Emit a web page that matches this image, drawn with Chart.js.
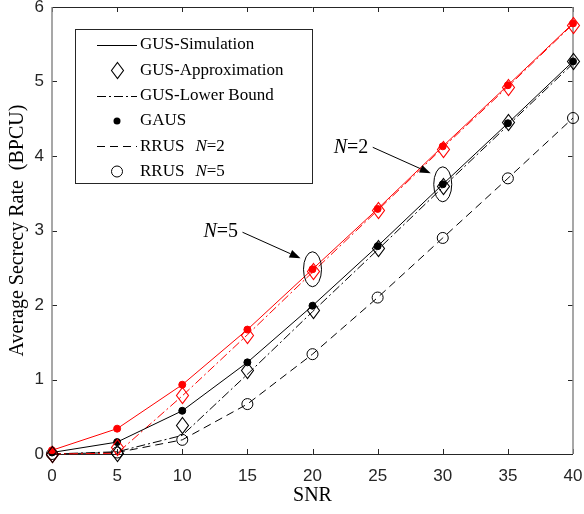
<!DOCTYPE html>
<html>
<head>
<meta charset="utf-8">
<script src="https://cdn.jsdelivr.net/npm/chart.js@4.4.1/dist/chart.umd.min.js"></script>
<style>
  html, body { margin: 0; padding: 0; background: #fff; }
  #chart { display: block; }
</style>
</head>
<body>
<canvas id="chart" width="584" height="514"></canvas>
<script>
const snr = [0, 5, 10, 15, 20, 25, 30, 35, 40];

// N = 2 curves (black)
const gusSimN2    = [0.02, 0.16, 0.58, 1.23, 1.99, 2.79, 3.62, 4.44, 5.27];
const gusApproxN2 = [0.00, 0.01, 0.39, 1.13, 1.93, 2.76, 3.60, 4.45, 5.27];
const gusLowerN2  = [0.00, 0.03, 0.25, 1.07, 1.91, 2.74, 3.58, 4.41, 5.24];
const gausN2      = [0.02, 0.16, 0.58, 1.23, 1.99, 2.79, 3.62, 4.44, 5.27];
const rrusLine    = [0.00, 0.02, 0.19, 0.67, 1.34, 2.10, 2.90, 3.70, 4.51];
const rrusCircles = [0.00, 0.02, 0.19, 0.67, 1.34, 2.10, 2.90, 3.70, 4.51];

// N = 5 curves (red)
const gusSimN5    = [0.05, 0.34, 0.93, 1.67, 2.48, 3.29, 4.13, 4.95, 5.78];
const gusApproxN5 = [0.00, 0.10, 0.79, 1.60, 2.45, 3.27, 4.10, 4.92, 5.76];
const gusLowerN5  = [0.00, 0.01, 0.78, 1.60, 2.44, 3.27, 4.11, 4.93, 5.77];
const gausN5      = [0.05, 0.34, 0.93, 1.67, 2.48, 3.29, 4.13, 4.95, 5.78];

const legendLabels = ['GUS-Simulation', 'GUS-Approximation', 'GUS-Lower Bound', 'GAUS', 'RRUS  N=2', 'RRUS  N=5'];
const xTitle = 'SNR';
const yTitle = 'Average Secrecy Rate  (BPCU)';

const BLACK = '#000000';
const RED = '#ff0000';
const AXIS = '#262626';
const SERIF = '"Liberation Serif", "Times New Roman", serif';
const SANS = '"Liberation Sans", Arial, sans-serif';

const pts = arr => snr.map((x, i) => ({ x: x, y: arr[i] }));

const lineSet = (arr, color, dash) => ({
    data: pts(arr), borderColor: color, borderWidth: 1, borderDash: dash,
    pointRadius: 0, fill: false, showLine: true, clip: false
});
const markSet = (arr, style, color, radius, filled) => ({
    data: pts(arr), showLine: false, pointStyle: style, pointRadius: radius,
    pointBorderColor: color, pointBackgroundColor: filled ? color : 'rgba(0,0,0,0)',
    pointBorderWidth: 1, clip: false
});
// diamonds are stroked by the overlay plugin at the element positions chart.js computes
const diamondSet = (arr, color) => ({
    data: pts(arr), showLine: false, pointRadius: 0, diamond: color, clip: false
});

const DASH = [8, 5];
const DASHDOT = [9, 3, 2, 3];

const datasets = [
    markSet(gausN5, 'circle', RED, 3.5, true),
    markSet(gausN2, 'circle', BLACK, 3.5, true),
    diamondSet(gusApproxN5, RED),
    diamondSet(gusApproxN2, BLACK),
    markSet(rrusCircles, 'circle', BLACK, 5.5, false),
    lineSet(gusSimN5, RED, []),
    lineSet(gusSimN2, BLACK, []),
    lineSet(gusLowerN5, RED, DASHDOT),
    lineSet(gusLowerN2, BLACK, DASHDOT),
    lineSet(rrusLine, BLACK, DASH)
];

const diamondPath = (ctx, x, y) => {
    ctx.beginPath();
    ctx.moveTo(x, y - 8); ctx.lineTo(x + 6, y); ctx.lineTo(x, y + 8); ctx.lineTo(x - 6, y);
    ctx.closePath();
    ctx.stroke();
};

// box, inward ticks on all four sides
const framePlugin = {
    id: 'frame',
    beforeDatasetsDraw(chart) {
        const { ctx, chartArea: a, scales } = chart;
        ctx.save();
        ctx.strokeStyle = AXIS;
        ctx.lineWidth = 1;
        const tl = 5;
        scales.x.ticks.forEach(t => {
            const px = Math.round(scales.x.getPixelForValue(t.value)) + 0.5;
            ctx.beginPath();
            ctx.moveTo(px, a.bottom); ctx.lineTo(px, a.bottom - tl);
            ctx.moveTo(px, a.top); ctx.lineTo(px, a.top + tl);
            ctx.stroke();
        });
        scales.y.ticks.forEach(t => {
            const py = Math.round(scales.y.getPixelForValue(t.value)) + 0.5;
            ctx.beginPath();
            ctx.moveTo(a.left, py); ctx.lineTo(a.left + tl, py);
            ctx.moveTo(a.right, py); ctx.lineTo(a.right - tl, py);
            ctx.stroke();
        });
        ctx.beginPath();
        ctx.moveTo(a.left, a.top + 0.5); ctx.lineTo(a.right, a.top + 0.5);
        ctx.moveTo(a.left, a.bottom + 0.5); ctx.lineTo(a.right, a.bottom + 0.5);
        ctx.stroke();
        ctx.strokeStyle = '#8a8a8a';
        ctx.lineWidth = 1.5;
        ctx.beginPath();
        ctx.moveTo(a.left, a.top); ctx.lineTo(a.left, a.bottom);
        ctx.moveTo(a.right, a.top); ctx.lineTo(a.right, a.bottom);
        ctx.stroke();
        ctx.restore();
    }
};

const drawArrow = (ctx, x0, y0, x1, y1) => {
    const ang = Math.atan2(y1 - y0, x1 - x0);
    const hl = 11, hw = 4;
    ctx.beginPath();
    ctx.moveTo(x0, y0);
    ctx.lineTo(x1 - hl * Math.cos(ang), y1 - hl * Math.sin(ang));
    ctx.stroke();
    ctx.beginPath();
    ctx.moveTo(x1, y1);
    ctx.lineTo(x1 - hl * Math.cos(ang) + hw * Math.sin(ang), y1 - hl * Math.sin(ang) - hw * Math.cos(ang));
    ctx.lineTo(x1 - hl * Math.cos(ang) - hw * Math.sin(ang), y1 - hl * Math.sin(ang) + hw * Math.cos(ang));
    ctx.closePath();
    ctx.fill();
};

const drawNLabel = (ctx, x, y, nVal, size) => {
    ctx.textBaseline = 'middle';
    ctx.textAlign = 'left';
    ctx.font = 'italic ' + size + 'px ' + SERIF;
    ctx.fillText('N', x, y);
    const w = ctx.measureText('N').width;
    ctx.font = size + 'px ' + SERIF;
    ctx.fillText('=' + nVal, x + w, y);
};

// diamonds, legend box and the N=2 / N=5 callouts
const overlayPlugin = {
    id: 'overlay',
    afterDatasetsDraw(chart) {
        const { ctx, chartArea: a, scales } = chart;
        ctx.save();

        ctx.lineWidth = 1.1;
        chart.data.datasets.forEach((ds, i) => {
            if (!ds.diamond) return;
            ctx.strokeStyle = ds.diamond;
            chart.getDatasetMeta(i).data.forEach(el => {
                diamondPath(ctx, Math.round(el.x) + 0.5, Math.round(el.y) + 0.5);
            });
        });

        // callouts
        ctx.strokeStyle = BLACK;
        ctx.fillStyle = BLACK;
        ctx.lineWidth = 1;
        const callouts = [
            { x: snr[6], y: gusSimN2[6], n: 2 },
            { x: snr[4], y: gusSimN5[4], n: 5 }
        ];
        callouts.forEach(c => {
            const cx = scales.x.getPixelForValue(c.x);
            const cy = scales.y.getPixelForValue(c.y);
            ctx.beginPath();
            ctx.ellipse(cx, cy, 9, 17.5, 0, 0, Math.PI * 2);
            ctx.stroke();
            drawArrow(ctx, cx - 70, cy - 37, cx - 12, cy - 11);
            drawNLabel(ctx, cx - 109, cy - 37, c.n, 20);
        });

        // legend
        const bx = a.left + 23, by = a.top + 22, bw = 237, bh = 154;
        ctx.fillStyle = '#ffffff';
        ctx.fillRect(bx, by, bw, bh);
        ctx.strokeStyle = AXIS;
        ctx.lineWidth = 1;
        ctx.strokeRect(bx + 0.5, by + 0.5, bw, bh);

        const sx0 = bx + 22, sx1 = bx + 62, mx = bx + 42, tx = bx + 65;
        legendLabels.forEach((lab, i) => {
            const ry = by + 16 + i * 25.3;
            ctx.strokeStyle = BLACK;
            ctx.fillStyle = BLACK;
            ctx.lineWidth = 1;
            if (i === 0 || i === 2 || i === 4) {
                ctx.setLineDash(i === 0 ? [] : (i === 2 ? DASHDOT : DASH));
                ctx.beginPath();
                ctx.moveTo(sx0, Math.round(ry) + 0.5); ctx.lineTo(sx1, Math.round(ry) + 0.5);
                ctx.stroke();
                ctx.setLineDash([]);
            } else if (i === 1) {
                ctx.lineWidth = 1.1;
                diamondPath(ctx, Math.round(mx) + 0.5, Math.round(ry) + 0.5);
            } else if (i === 3) {
                ctx.beginPath(); ctx.arc(mx, ry, 3.5, 0, Math.PI * 2); ctx.fill();
            } else {
                ctx.beginPath(); ctx.arc(mx, ry, 5.5, 0, Math.PI * 2); ctx.stroke();
            }
            ctx.textBaseline = 'middle';
            ctx.textAlign = 'left';
            ctx.font = '17px ' + SERIF;
            if (lab.indexOf('N=') >= 0) {
                const parts = lab.split(/\s+/);
                ctx.fillText(parts[0], tx, ry);
                const w = ctx.measureText(parts[0]).width;
                drawNLabel(ctx, tx + w + 11, ry, parts[1].split('=')[1], 17);
            } else {
                ctx.fillText(lab, tx, ry);
            }
        });
        ctx.restore();
    }
};

const chart = new Chart(document.getElementById('chart').getContext('2d'), {
    type: 'scatter',
    data: { datasets },
    options: {
        responsive: false,
        animation: false,
        events: [],
        layout: { padding: { top: 7, right: 11, left: 0, bottom: 0 } },
        plugins: { legend: { display: false }, tooltip: { enabled: false } },
        scales: {
            x: {
                type: 'linear', min: 0, max: 40,
                grid: { display: false, drawTicks: false },
                border: { display: false },
                ticks: { stepSize: 5, padding: 12, color: AXIS, font: { family: SANS, size: 17 }, maxRotation: 0 },
                title: { display: true, text: xTitle, color: BLACK, font: { family: SERIF, size: 20 }, padding: { top: 4, bottom: 6 } },
                afterFit: s => { s.height = 60; s.paddingLeft = 0; s.paddingRight = 0; }
            },
            y: {
                type: 'linear', min: 0, max: 6,
                grid: { display: false, drawTicks: false },
                border: { display: false },
                ticks: { stepSize: 1, padding: 8, color: AXIS, font: { family: SANS, size: 17 } },
                title: { display: true, text: yTitle, color: BLACK, font: { family: SERIF, size: 20 }, padding: { top: 6, bottom: 4 } },
                afterFit: s => { s.width = 52; s.paddingTop = 0; s.paddingBottom = 0; }
            }
        }
    },
    plugins: [framePlugin, overlayPlugin]
});
</script>
</body>
</html>
